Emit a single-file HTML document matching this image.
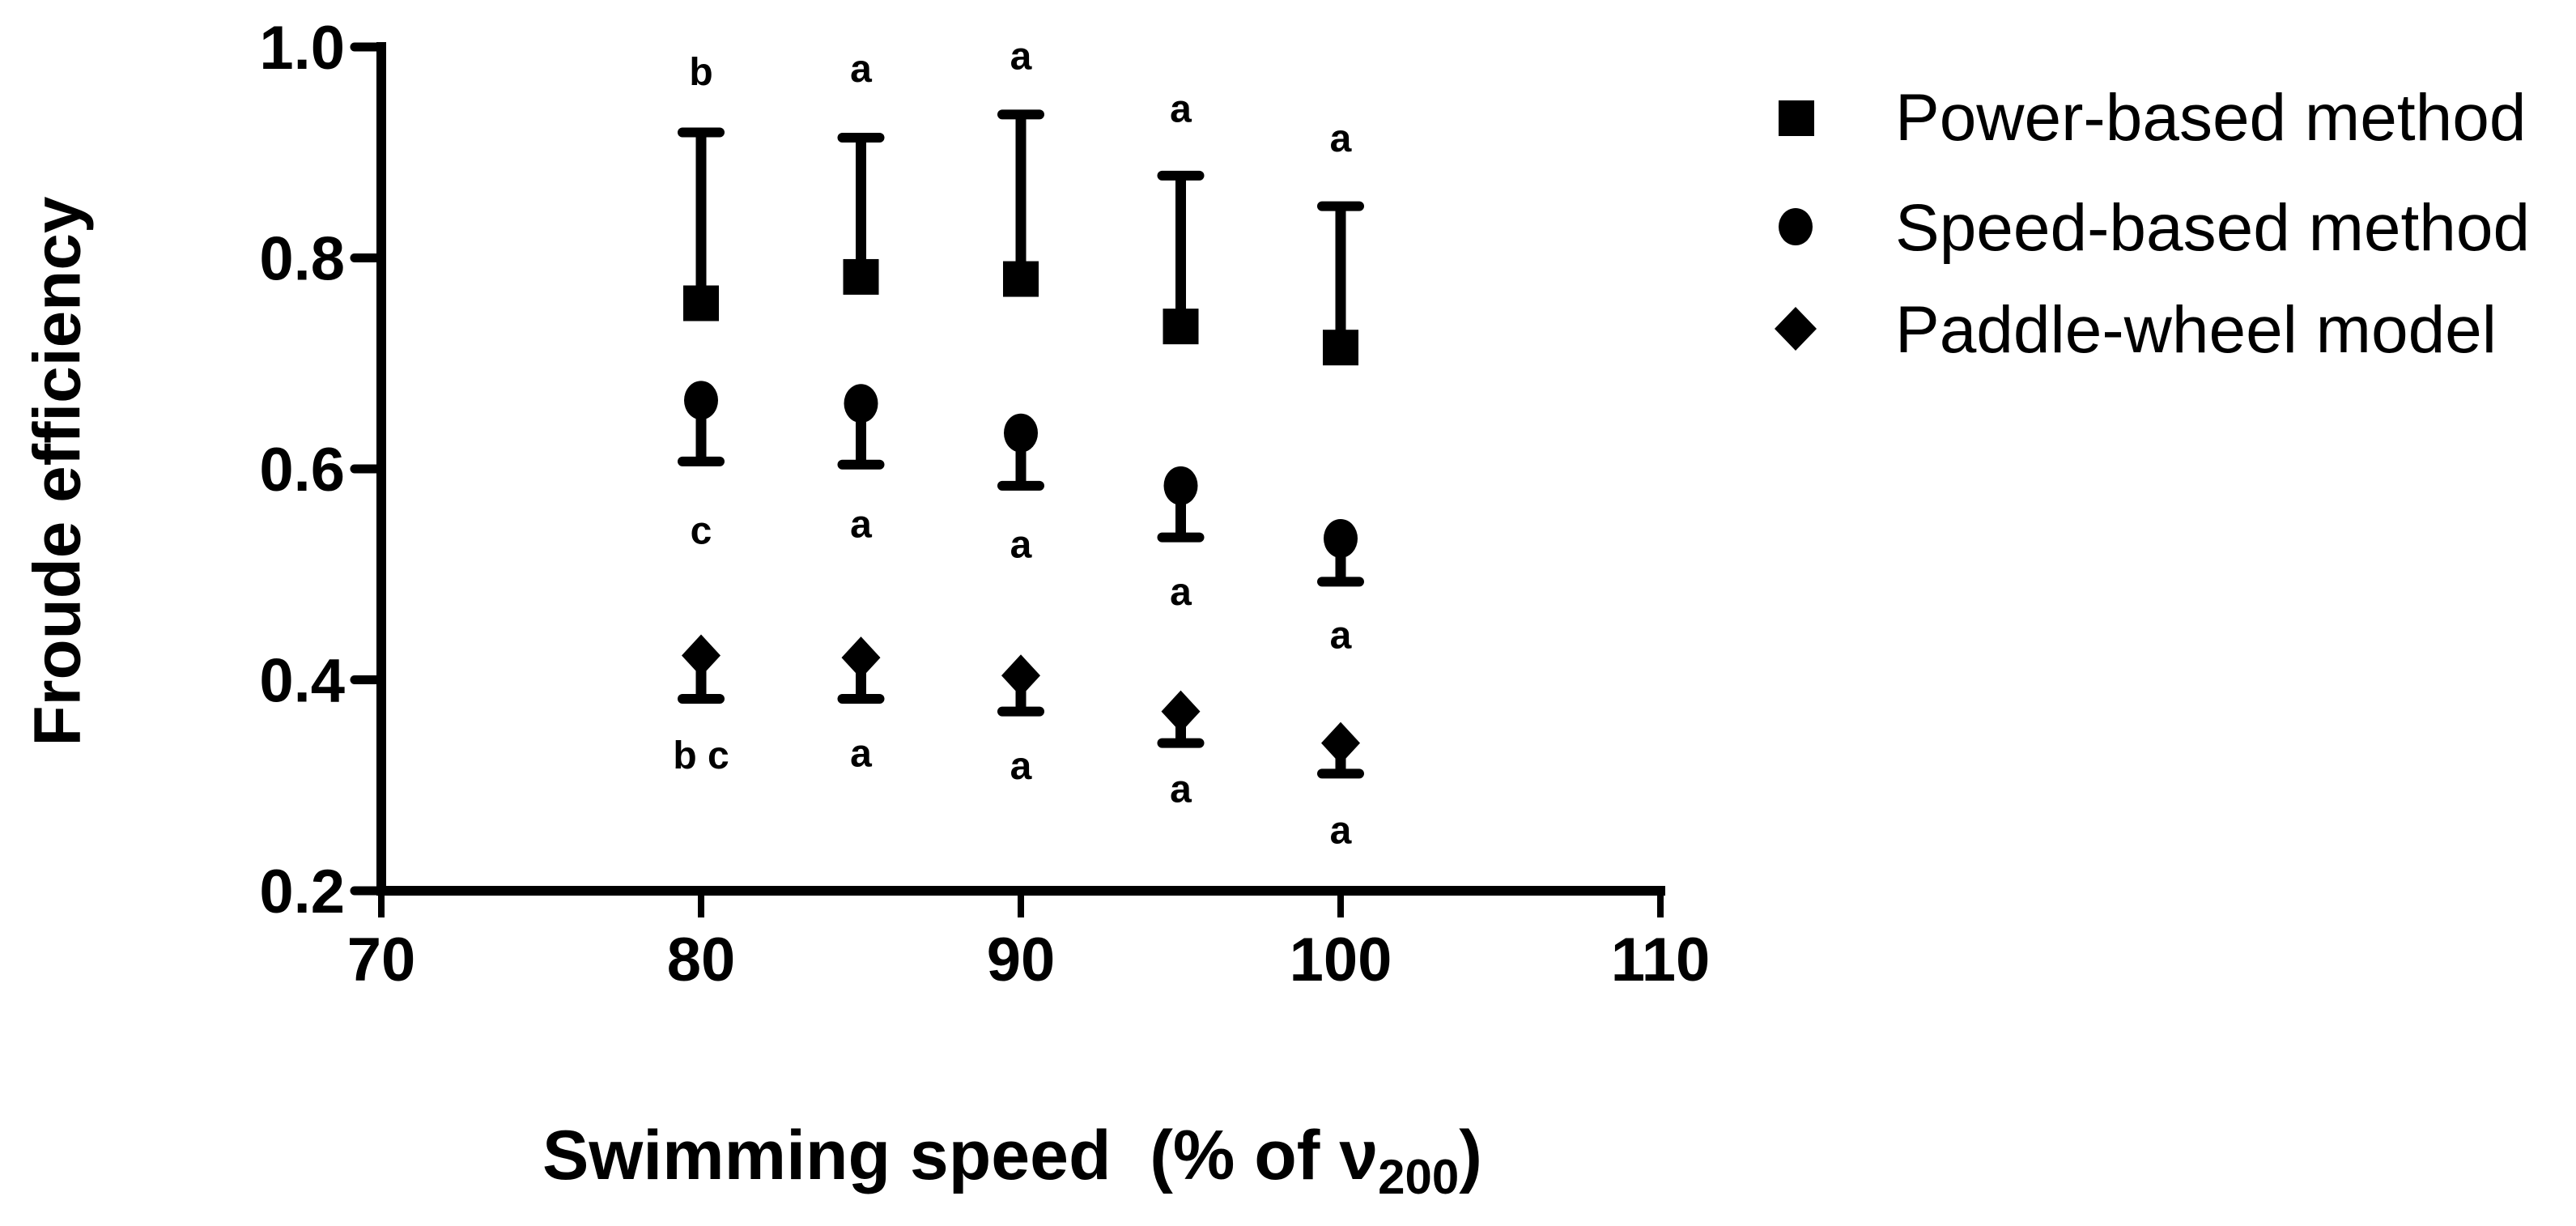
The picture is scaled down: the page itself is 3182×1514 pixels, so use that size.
<!DOCTYPE html>
<html><head><meta charset="utf-8"><style>
html,body{margin:0;padding:0;background:#fff;}
svg{display:block;font-family:"Liberation Sans",Arial,sans-serif;}
</style></head><body>
<svg id="chart" width="3182" height="1514" viewBox="0 0 3182 1514"></svg>
<script>
const xCats = [80, 85, 90, 95, 100];
const powerMean = [0.757, 0.782, 0.780, 0.735, 0.715];
const powerUpper = [0.919, 0.914, 0.936, 0.878, 0.849];
const speedMean = [0.665, 0.662, 0.634, 0.584, 0.534];
const speedLower = [0.607, 0.604, 0.584, 0.535, 0.493];
const paddleMean = [0.423, 0.421, 0.404, 0.370, 0.340];
const paddleLower = [0.382, 0.382, 0.370, 0.340, 0.311];
const powerLetters = ['b', 'a', 'a', 'a', 'a'];
const powerLetterY = [0.977, 0.980, 0.992, 0.942, 0.914];
const speedLetters = ['c', 'a', 'a', 'a', 'a'];
const speedLetterY = [0.542, 0.548, 0.529, 0.484, 0.443];
const paddleLetters = ['b c', 'a', 'a', 'a', 'a'];
const paddleLetterY = [0.329, 0.331, 0.319, 0.297, 0.258];
const xTicks = [70, 80, 90, 100, 110];
const yTicks = [0.2, 0.4, 0.6, 0.8, 1.0];

const NS = 'http://www.w3.org/2000/svg';
const svg = document.getElementById('chart');
const X0 = 471, XPU = 39.5, Y0 = 1100, YPU = 1302.5;
const sx = v => X0 + (v - 70) * XPU;
const sy = v => Y0 - (v - 0.2) * YPU;
function mk(tag, attrs, parent) {
  const e = document.createElementNS(NS, tag);
  for (const k in attrs) e.setAttribute(k, attrs[k]);
  (parent || svg).appendChild(e);
  return e;
}
const ya = mk('line', {x1: X0, y1: sy(1.0) - 6, x2: X0, y2: Y0 + 6, stroke: '#000', 'stroke-width': 12});


const xa = mk('line', {x1: X0 - 6, y1: Y0, x2: sx(110) + 6, y2: Y0, stroke: '#000', 'stroke-width': 12});


yTicks.forEach(t => {
  const l = mk('line', {x1: X0 - 33, y1: sy(t), x2: X0, y2: sy(t), stroke: '#000', 'stroke-width': 11, 'stroke-linecap': 'round'});
  
  
  const tx = mk('text', {x: X0 - 45, y: sy(t) + 27, 'text-anchor': 'end', 'font-size': 76, 'font-weight': 'bold'});
  tx.textContent = t.toFixed(1);
  
  
});
xTicks.forEach(t => {
  const l = mk('line', {x1: sx(t), y1: Y0, x2: sx(t), y2: Y0 + 33, stroke: '#000', 'stroke-width': 8});
  
  
  const tx = mk('text', {x: sx(t), y: 1211, 'text-anchor': 'middle', 'font-size': 76, 'font-weight': 'bold'});
  tx.textContent = t;
  
  
});
function errbar(x, a, b) {
  const g = mk('g', {});
  
  
  mk('line', {x1: sx(x), y1: sy(a), x2: sx(x), y2: sy(b), stroke: '#000', 'stroke-width': 13}, g);
  mk('line', {x1: sx(x) - 23, y1: sy(b), x2: sx(x) + 23, y2: sy(b), stroke: '#000', 'stroke-width': 12, 'stroke-linecap': 'round'}, g);
}
function letter(x, v, s) {
  const t = mk('text', {x: sx(x), y: sy(v) + 17, 'text-anchor': 'middle', 'font-size': 48, 'font-weight': 'bold'});
  t.textContent = s;
  
  
}
xCats.forEach((x, i) => {
  errbar(x, powerMean[i], powerUpper[i]);
  const sq = mk('rect', {x: sx(x) - 22, y: sy(powerMean[i]) - 22, width: 44, height: 44, fill: '#000'});
  
  
  errbar(x, speedMean[i], speedLower[i]);
  const c = mk('ellipse', {cx: sx(x), cy: sy(speedMean[i]), rx: 21, ry: 24, fill: '#000'});
  
  
  errbar(x, paddleMean[i], paddleLower[i]);
  const cx = sx(x), cy = sy(paddleMean[i]);
  const d = mk('polygon', {points: `${cx},${cy-26} ${cx+24},${cy} ${cx},${cy+26} ${cx-24},${cy}`, fill: '#000'});
  
  
  letter(x, powerLetterY[i], powerLetters[i]);
  letter(x, speedLetterY[i], speedLetters[i]);
  letter(x, paddleLetterY[i], paddleLetters[i]);
});
</script>
<svg style="position:absolute;left:0;top:0" width="3182" height="1514">
  <text x="77" y="582" transform="rotate(-90 77 582)" text-anchor="middle" dominant-baseline="middle" font-family="Liberation Sans, Arial, sans-serif" font-size="82" font-weight="bold">Froude efficiency</text>
  <text x="670" y="1456" font-family="Liberation Sans, Arial, sans-serif" font-size="86" font-weight="bold">Swimming speed&#160;&#160;(% of ν<tspan font-size="60" dy="18">200</tspan><tspan dy="-18">)</tspan></text>
  <g font-family="Liberation Sans, Arial, sans-serif" font-size="82">
    <rect x="2197" y="124" width="44" height="44" fill="#000"/>
    <text x="2341" y="173">Power-based method</text>
    <ellipse cx="2218" cy="280" rx="21" ry="23" fill="#000"/>
    <text x="2341" y="309">Speed-based method</text>
    <polygon points="2218,379 2244,406 2218,433 2192,406" fill="#000"/>
    <text x="2341" y="435">Paddle-wheel model</text>
  </g>
</svg>
</body></html>
